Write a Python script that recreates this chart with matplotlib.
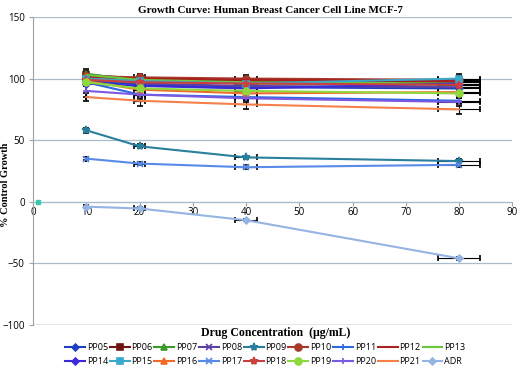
import matplotlib
matplotlib.use("Agg")
import matplotlib.pyplot as plt

conc = [10, 20, 40, 80]
conc_err = [0, 1, 2, 4]

names = ["PP05", "PP06", "PP07", "PP08", "PP09", "PP10", "PP11", "PP12", "PP13",
         "PP14", "PP15", "PP16", "PP17", "PP18", "PP19", "PP20", "PP21", "ADR"]

growth = {
    "PP05": [98, 95, 93, 92],
    "PP06": [103, 100, 98, 97],
    "PP07": [104, 98, 96, 95],
    "PP08": [100, 96, 94, 93],
    "PP09": [58, 45, 36, 33],
    "PP10": [102, 101, 100, 99],
    "PP11": [97, 87, 85, 82],
    "PP12": [101, 100, 99, 98],
    "PP13": [103, 99, 97, 96],
    "PP14": [96, 94, 92, 96],
    "PP15": [100, 98, 96, 100],
    "PP16": [98, 91, 88, 89],
    "PP17": [35, 31, 28, 30],
    "PP18": [99, 97, 96, 95],
    "PP19": [97, 92, 90, 88],
    "PP20": [90, 87, 84, 81],
    "PP21": [85, 82, 79, 75],
    "ADR": [-4, -5.5, -15, -46],
}
growth_err = {
    "PP05": [3, 2, 2, 2],
    "PP06": [3, 3, 3, 3],
    "PP07": [4, 2, 2, 2],
    "PP08": [2, 2, 2, 2],
    "PP09": [2, 1.5, 1.5, 1.5],
    "PP10": [3, 3, 3, 3],
    "PP11": [3, 3, 2, 2],
    "PP12": [2, 2, 2, 2],
    "PP13": [2, 2, 2, 2],
    "PP14": [2, 2, 2, 2],
    "PP15": [2, 2, 2, 4],
    "PP16": [3, 3, 3, 2],
    "PP17": [1.5, 1.5, 1.5, 1.5],
    "PP18": [2, 2, 2, 2],
    "PP19": [2, 2, 2, 2],
    "PP20": [5, 4, 3, 3],
    "PP21": [3, 4, 4, 4],
    "ADR": [1, 1, 1, 1],
}
# stray point on the zero line
stray_x = [1]
stray_y = [0]

colors = {
    "PP05": "#1f3fbf", "PP06": "#6e1414", "PP07": "#3a9a2a", "PP08": "#5b3fa8",
    "PP09": "#2a7f9c", "PP10": "#a83a2a", "PP11": "#2a6ae0", "PP12": "#a82020",
    "PP13": "#6cc83a", "PP14": "#3a2ad8", "PP15": "#3aa8c8", "PP16": "#f06a2a",
    "PP17": "#5a8ae8", "PP18": "#c84040", "PP19": "#8ed83e", "PP20": "#7a5ae0",
    "PP21": "#f5804a", "ADR": "#95b4e4",
}
markers = {
    "PP05": "D", "PP06": "s", "PP07": "^", "PP08": "x", "PP09": "*", "PP10": "o",
    "PP11": "+", "PP12": "", "PP13": "", "PP14": "D", "PP15": "s", "PP16": "^",
    "PP17": "x", "PP18": "*", "PP19": "o", "PP20": "+", "PP21": "", "ADR": "D",
}
msize = {"D": 3.5, "s": 5, "^": 5, "x": 5, "*": 6, "o": 5, "+": 5, "": 0}

fig = plt.figure(figsize=(5.2, 3.7), dpi=100)
ax = fig.add_axes([0.0635, 0.122, 0.922, 0.832])

handles = {}
for n in names:
    eb = ax.errorbar(conc, growth[n], yerr=growth_err[n], xerr=conc_err,
                     color=colors[n], ecolor="black", elinewidth=0.8, capsize=2,
                     capthick=0.8, lw=1.5, marker=markers[n] or None,
                     ms=msize[markers[n]], mew=1.2, zorder=3)
    handles[n] = eb.lines[0]
ax.plot(stray_x, stray_y, "s", color="#3ac8b0", ms=3, zorder=4)

ax.set_xlim(0, 90)
ax.set_ylim(-100, 150)
ax.set_xticks(range(0, 91, 10))
ax.set_yticks(range(-100, 151, 50))
ax.grid(axis="y", color="#a9bccc", lw=0.9, zorder=0)
for s in ["top", "right"]:
    ax.spines[s].set_visible(False)
ax.spines["bottom"].set_position(("data", 0))
ax.spines["bottom"].set_color("#a9bccc")
ax.spines["left"].set_color("#a0a0a0")
ax.axhline(-100, color="#a0a0a0", lw=1.0, zorder=1)
ax.tick_params(axis="x", direction="out", length=3, color="#a0a0a0", labelsize=7, pad=1)
ax.tick_params(axis="y", length=3, color="#a0a0a0", labelsize=7, pad=3)
for lab in ax.get_xticklabels() + ax.get_yticklabels():
    lab.set_family("Open Sans")

fig.text(0.52, 0.985, "Growth Curve: Human Breast Cancer Cell Line MCF-7",
         ha="center", va="top", family="Liberation Serif", weight="bold", fontsize=8)
fig.text(0.011, 0.5, "% Control Growth", rotation=90, ha="center", va="center",
         family="Liberation Serif", weight="bold", fontsize=7.5)
fig.text(0.53, 0.1, "Drug Concentration  (\u03bcg/mL)", ha="center", va="center",
         family="Liberation Serif", weight="bold", fontsize=8.5)

# reorder so the 2-row legend reads left to right
row1 = names[:9]
row2 = names[9:]
order = []
for a, b in zip(row1, row2):
    order += [a, b]
leg = fig.legend([handles[n] for n in order], order, loc="center",
                 bbox_to_anchor=(0.51, 0.042), ncol=9, frameon=False,
                 handlelength=2.2, handletextpad=0.2,
                 columnspacing=0.2, labelspacing=0.6, borderpad=0,
                 prop={"family": "Open Sans", "size": 6.5})

fig.savefig("out.png", dpi=100)
